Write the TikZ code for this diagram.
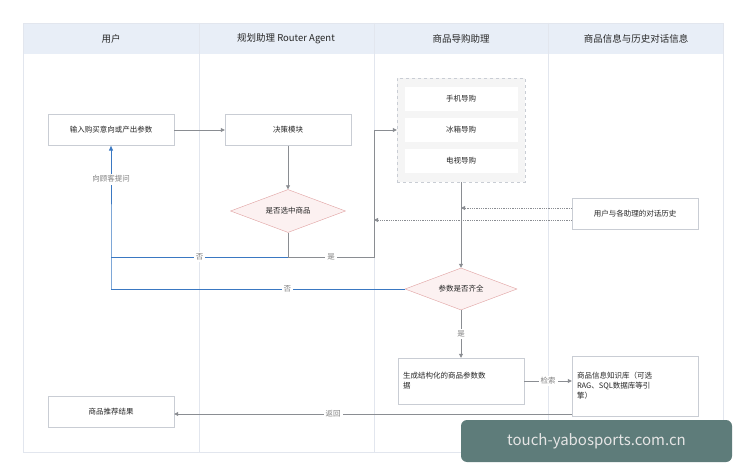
\documentclass[tikz,border=0pt]{standalone}
\usepackage{fontspec}
\setmainfont{Noto Sans CJK SC}
\usetikzlibrary{shapes.geometric,arrows.meta}
\definecolor{hdr}{HTML}{E8EEF7}
\definecolor{lane}{HTML}{E2E6EE}
\definecolor{bx}{HTML}{C9CDD4}
\definecolor{ln}{HTML}{8A8D92}
\definecolor{blu}{HTML}{3A78C2}
\definecolor{dred}{HTML}{E0A0A0}
\definecolor{dfill}{HTML}{FCF1F1}
\definecolor{wm}{HTML}{5E7C7A}
\begin{document}
\begin{tikzpicture}[x=1pt,y=-1pt,
  box/.style={draw=bx,fill=white,minimum width=126pt,minimum height=31pt,font=\fontsize{7.5}{10}\selectfont,text=black!85},
  ibox/.style={draw=none,fill=white,minimum width=113pt,minimum height=24pt,font=\fontsize{7.5}{9}\selectfont,text=black!85},
  dia/.style={diamond,aspect=2.6,draw=dred,fill=dfill,inner sep=1pt,font=\fontsize{7.5}{9}\selectfont,text=black!85},
  hd/.style={font=\fontsize{9.5}{11}\selectfont,text=black!85},
  lab/.style={fill=white,font=\fontsize{7.5}{9}\selectfont,text=black!50,inner sep=2pt},
  arr/.style={draw=ln,line width=0.8pt,-{Triangle[length=4pt,width=4pt]}},
  ln/.style={draw=ln,line width=0.8pt},
  bl/.style={draw=blu,line width=0.9pt}]
\useasboundingbox (0,0) rectangle (747,476);
\fill[white] (0,0) rectangle (747,476);
% lanes
\fill[hdr] (23,23) rectangle (723,54);
\draw[lane,line width=0.6pt] (23,23) rectangle (723,452);
\foreach \x in {199,374,548} \draw[lane,line width=0.6pt] (\x,23) -- (\x,452);
\node[hd] (h1) at (111,39) {用户};
\node[hd] (h2) at (286,39) {规划助理 Router Agent};
\node[hd] (h3) at (461,39) {商品导购助理};
\node[hd] (h4) at (636,39) {商品信息与历史对话信息};
% nodes
\node[box] (in) at (111,130) {输入购买意向或产出参数};
\node[box] (dec) at (288,130) {决策模块};
\node[draw=bx,dashed,fill=black!4,minimum width=128pt,minimum height=104pt] (grp) at (461,130) {};
\node[ibox] (g1) at (461,99) {手机导购};
\node[ibox] (g2) at (461,130) {冰箱导购};
\node[ibox] (g3) at (461,161) {电视导购};
\node[dia,minimum width=115pt,minimum height=43pt] (d1) at (288,211) {是否选中商品};
\node[box] (hist) at (635,214) {用户与各助理的对话历史};
\node[dia,minimum width=112pt,minimum height=42pt] (d2) at (461,289) {参数是否齐全};
\node[box,minimum height=46pt,align=left,text width=116pt] (gen) at (461,381) {生成结构化的商品参数数\\据};
\node[box,minimum height=60pt,align=left,text width=116pt] (kb) at (635,386) {商品信息知识库（可选\\RAG、SQL数据库等引\\擎）};
\node[box] (res) at (111,412) {商品推荐结果};
\coordinate (j1) at (288,257);
\coordinate (j2) at (111,257);
\coordinate (j3) at (374,257);
\coordinate (j4) at (374,130);
\coordinate (j5) at (111,289);
\coordinate (t1) at (461,208);
\coordinate (t2) at (374,220);
% connectors
\draw[arr] (in) -- (dec);
\draw[arr] (dec) -- (d1);
\draw[ln] (d1.south) -- (j1);
\draw[bl] (j1) -- node[lab]{否} (j2);
\draw[ln] (j1) -- node[lab]{是} (j3) -- (j4);
\draw[arr] (j4) -- (grp.west);
\draw[bl,-{Triangle[length=5pt,width=4pt]}] (j5) -- (j2) -- node[lab,pos=0.7]{向顾客提问} (in.south);
\draw[bl] (d2.west) -- node[lab,pos=0.4]{否} (j5);
\draw[arr] (grp.south) -- (d2.north);
\draw[ln,densely dotted,-{Triangle[length=4pt,width=4pt]}] (hist.west |- t1) -- (t1);
\draw[ln,densely dotted,-{Triangle[length=4pt,width=4pt]}] (hist.west |- t2) -- (t2);
\draw[arr] (d2.south) -- node[lab]{是} (gen.north);
\draw[arr] (gen.east |- {(0,381)}) -- node[lab]{检索} (kb.west |- {(0,381)});
\draw[arr] (kb.west |- {(0,414)}) -- node[lab,pos=0.6]{返回} (res.east |- {(0,414)});
% watermark
\node[fill=wm,rounded corners=6pt,minimum width=271pt,minimum height=42pt,text=white!90!black,font=\fontsize{15}{18}\selectfont] (wmk) at (596.5,441) {touch-yabosports.com.cn};
\end{tikzpicture}
\end{document}
